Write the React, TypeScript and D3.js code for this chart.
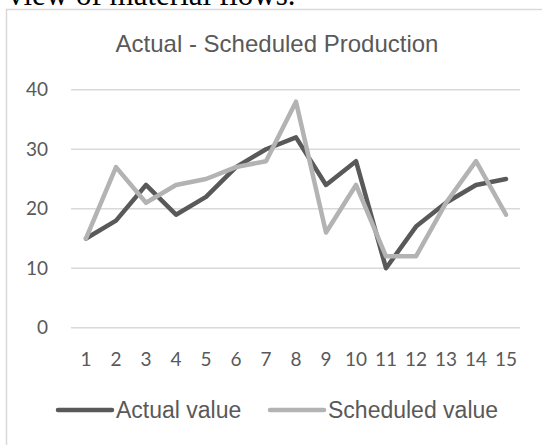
import * as d3 from "d3";

// chart data
const categories = ["1", "2", "3", "4", "5", "6", "7", "8", "9", "10", "11", "12", "13", "14", "15"];
const actualValues = [15, 18, 24, 19, 22, 27, 30, 32, 24, 28, 10, 17, 21, 24, 25];
const scheduledValues = [15, 27, 21, 24, 25, 27, 28, 38, 16, 24, 12, 12, 21, 28, 19];
const yTicks = [0, 10, 20, 30, 40];
const seriesNames = ["Actual value", "Scheduled value"];

const width = 542,
  height = 445;

const darkGray = "#595959";
const lightGray = "#b3b3b3";
const gridColor = "#d9d9d9";
const labelFont = "Lato, 'Open Sans', sans-serif";
const textFont = "'Liberation Sans', Arial, sans-serif";

const App = () => {
  const x = d3.scaleBand().domain(categories).range([71, 521]);
  const y = d3.scaleLinear().domain([0, 40]).range([327.7, 89.8]);

  const line = d3
    .line<number>()
    .x((d, i) => x(categories[i])! + x.bandwidth() / 2)
    .y((d) => y(d));

  const series = [
    { name: seriesNames[0], values: actualValues, color: darkGray },
    { name: seriesNames[1], values: scheduledValues, color: lightGray }
  ];

  // legend positions
  const legendItems = [
    { x1: 58, x2: 112, tx: 116 },
    { x1: 270, x2: 324, tx: 328 }
  ];

  return (
    <svg
      width={width}
      height={height}
      style={{ position: "absolute", left: 0, top: 0, background: "#fff" }}
    >
      {/* cut-off paragraph text above the chart */}
      <text x={8} y={5} fontFamily="'Liberation Serif', 'Times New Roman', serif" fontSize={31} fill="#000">
        view of material flows.
      </text>

      {/* chart area border */}
      <rect x={6.5} y={9.5} width={600} height={500} fill="#fff" stroke={gridColor} strokeWidth={1.5} />

      <text x={277} y={52} textAnchor="middle" fontFamily={textFont} fontSize={24} fill={darkGray}>
        Actual - Scheduled Production
      </text>

      {/* gridlines + y labels */}
      {yTicks.map((t) => (
        <g key={t}>
          <line x1={71} x2={520} y1={y(t)} y2={y(t)} stroke={gridColor} strokeWidth={1.5} />
          <text
            x={48}
            y={y(t)}
            dy="0.35em"
            textAnchor="end"
            fontFamily={labelFont}
            fontSize={19}
            fill={darkGray}
          >
            {t}
          </text>
        </g>
      ))}

      {/* x labels */}
      {categories.map((c) => (
        <text
          key={c}
          x={x(c)! + x.bandwidth() / 2}
          y={366}
          textAnchor="middle"
          fontFamily={labelFont}
          fontSize={19}
          fill={darkGray}
        >
          {c}
        </text>
      ))}

      {/* series lines */}
      {series.map((s) => (
        <path
          key={s.name}
          d={line(s.values)!}
          fill="none"
          stroke={s.color}
          strokeWidth={4.5}
          strokeLinejoin="round"
          strokeLinecap="round"
        />
      ))}

      {/* legend */}
      {series.map((s, i) => (
        <g key={s.name}>
          <line
            x1={legendItems[i].x1}
            x2={legendItems[i].x2}
            y1={410}
            y2={410}
            stroke={s.color}
            strokeWidth={4.5}
            strokeLinecap="round"
          />
          <text x={legendItems[i].tx} y={417.5} fontFamily={textFont} fontSize={23} fill={darkGray}>
            {s.name}
          </text>
        </g>
      ))}
    </svg>
  );
};

export default App;
